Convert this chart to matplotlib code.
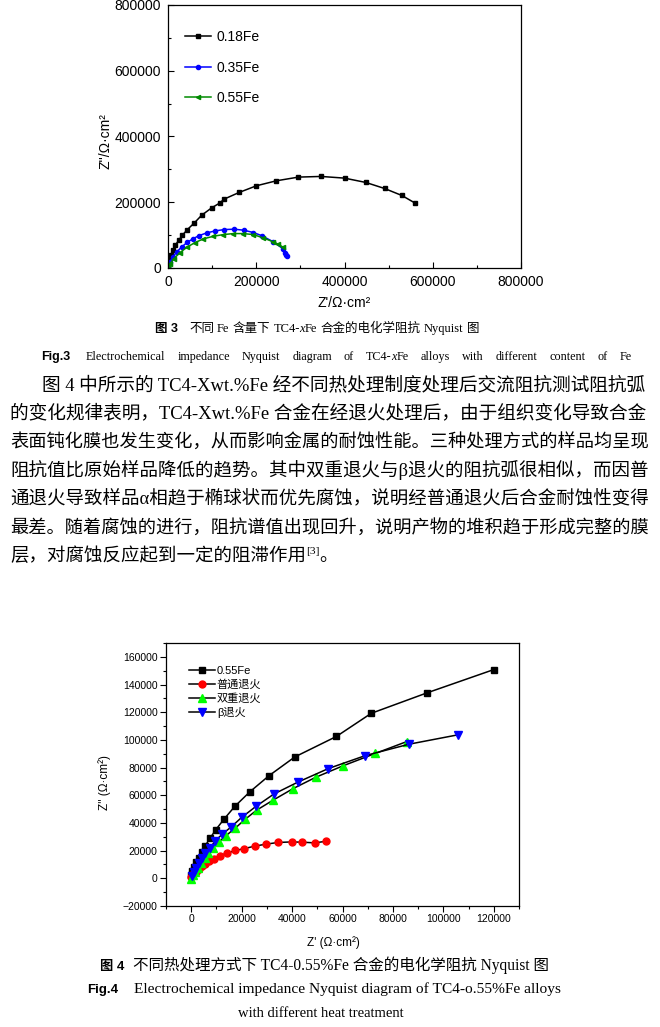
import matplotlib
matplotlib.use('Agg')
import matplotlib.pyplot as plt
from matplotlib.ticker import MultipleLocator

W, H = 660, 1027

# Fig.3 data (Z', Z'')
fe18_x = [0, 750, 3000, 6000, 10600, 16600, 24200, 32500, 43900, 59700, 76400, 99000, 118000,
          127000, 161000, 200400, 245700, 295600, 347000, 400000, 448400, 490700, 530000, 560300]
fe18_y = [0, 8100, 23400, 38600, 53900, 69100, 84400, 99600, 116900, 137200, 160600, 183000, 198200,
          209400, 229700, 250100, 265300, 276500, 278500, 273400, 260200, 241900, 220600, 197200]
fe35_x = [0, 4500, 10600, 19700, 31000, 43900, 56000, 70300, 87700, 106600, 128000, 150000, 172000,
          193600, 212000, 239000, 260000, 265000, 267000, 269000]
fe35_y = [0, 18300, 33500, 48800, 64000, 78300, 88400, 98600, 106700, 112800, 117000, 118000, 115000,
          107800, 98600, 79300, 59000, 47000, 41000, 35600]
fe55_x = [0, 4500, 13600, 27000, 43900, 61000, 80000, 102800, 125500, 148000, 171000, 193600,
          216000, 239000, 250000, 260000]
fe55_y = [0, 13200, 28500, 46800, 64000, 77200, 88400, 96600, 101600, 104700, 104700, 101600,
          91500, 79300, 72000, 64000]

# Fig.4 data
raw_x = [0, 400, 1000, 2000, 2900, 4100, 5500, 7400, 9700, 12900, 17300, 23200, 30900, 41100,
         57600, 71400, 93400, 120000]
raw_y = [2200, 5300, 8500, 11800, 15000, 18900, 23400, 28800, 35000, 42500, 52000, 62400, 74200,
         87700, 102500, 119200, 133900, 150800]
norm_x = [100, 800, 1700, 2900, 4100, 5400, 7100, 8900, 11300, 14100, 17500, 21100, 25100, 29700,
          34500, 39900, 44100, 49000, 53600]
norm_y = [1000, 2900, 4800, 7000, 8900, 10600, 12600, 14300, 16400, 18100, 20100, 21500, 23200,
          24700, 25900, 26300, 26100, 25600, 26800]
dbl_x = [0, 700, 1600, 2600, 3800, 5300, 6800, 8700, 11000, 13700, 17300, 21300, 26000, 32600,
         40400, 49400, 60100, 73000, 85500]
dbl_y = [-200, 2200, 4800, 7700, 10900, 14500, 18400, 22200, 26300, 30700, 36000, 42500, 49300,
         56600, 64800, 73000, 81200, 90200, 98800]
beta_x = [300, 1100, 2000, 3000, 4200, 5600, 7400, 9600, 12300, 15900, 20000, 25700, 32800, 42200,
          54400, 69100, 86400, 105900]
beta_y = [1700, 4600, 7700, 11100, 14500, 18100, 22000, 27100, 31900, 37200, 44000, 52000, 60900,
          69400, 79300, 88700, 96900, 103700]

para = [
    "图 4 中所示的 TC4-Xwt.%Fe 经不同热处理制度处理后交流阻抗测试阻抗弧",
    "的变化规律表明，TC4-Xwt.%Fe 合金在经退火处理后，由于组织变化导致合金",
    "表面钝化膜也发生变化，从而影响金属的耐蚀性能。三种处理方式的样品均呈现",
    "阻抗值比原始样品降低的趋势。其中双重退火与β退火的阻抗弧很相似，而因普",
    "通退火导致样品α相趋于椭球状而优先腐蚀，说明经普通退火后合金耐蚀性变得",
    "最差。随着腐蚀的进行，阻抗谱值出现回升，说明产物的堆积趋于形成完整的膜",
    "层，对腐蚀反应起到一定的阻滞作用",
]

SANS = ['Liberation Sans', 'Noto Sans CJK SC']
SERIF = ['Liberation Serif', 'Noto Sans CJK SC']
plt.rcParams['font.family'] = SANS

fig = plt.figure(figsize=(W / 100, H / 100), dpi=100)
r = fig.canvas.get_renderer()


def fx(x):
    return x / W


def fy(y):
    return 1 - y / H


def pieces(x, y, parts, x1=None, size=9, family=SERIF):
    # parts: list of words, each word a list of (text, weight, style, dy)
    objs = []
    for word in parts:
        wo = []
        for s, wt, st, dy in word:
            t = fig.text(0, 0, s, fontsize=size if dy == 0 else size * 0.65, family=family,
                         weight=wt, style=st, va='baseline', ha='left')
            wo.append((t, t.get_window_extent(r).width, dy))
        objs.append(wo)
    widths = [sum(w for _, w, _ in wo) for wo in objs]
    if x1 is None or len(objs) < 2:
        sp = size * 100 / 72 * 0.25
    else:
        sp = (x1 - x - sum(widths)) / (len(objs) - 1)
    cx = x
    for wo, ww in zip(objs, widths):
        for t, w, dy in wo:
            t.set_position((fx(cx), fy(y - dy)))
            cx += w
        cx += sp
    return cx


def fit(x0, x1, y, s, size, family=SERIF, **kw):
    # scale font so that the line runs from x0 to x1
    t = fig.text(fx(x0), fy(y), s, fontsize=size, family=family, va='baseline', **kw)
    wd = t.get_window_extent(r).width
    t.set_fontsize(size * (x1 - x0) / wd)
    return t


def w(s, wt='normal', st='normal', dy=0):
    return [(s, wt, st, dy)]


def words(s):
    return [w(p) for p in s.split(' ')]


# ---------- Fig.3 ----------
ax1 = fig.add_axes([fx(168), fy(268), (521 - 168) / W, (268 - 5) / H])
ax1.plot(fe18_x, fe18_y, '-s', color='black', ms=3, lw=1.1, label='0.18Fe')
ax1.plot(fe35_x, fe35_y, '-o', color='#0000ff', ms=3, lw=1.1, label='0.35Fe')
ax1.plot(fe55_x, fe55_y, '-<', color='#008a00', ms=3, lw=1.1, label='0.55Fe')
ax1.set_xlim(0, 800000)
ax1.set_ylim(0, 800000)
ax1.xaxis.set_major_locator(MultipleLocator(200000))
ax1.yaxis.set_major_locator(MultipleLocator(200000))
ax1.xaxis.set_minor_locator(MultipleLocator(100000))
ax1.yaxis.set_minor_locator(MultipleLocator(100000))
ax1.tick_params(which='both', direction='in', labelsize=10)
ax1.tick_params(which='major', length=4, width=0.8, pad=5)
ax1.tick_params(which='minor', length=2.5, width=0.8)
for sp in ax1.spines.values():
    sp.set_linewidth(0.9)
ax1.legend(loc='upper left', bbox_to_anchor=(fx(185), fy(30)), bbox_transform=fig.transFigure,
           frameon=False, fontsize=10, handlelength=1.9, handletextpad=0.35, labelspacing=1.2,
           borderpad=0, borderaxespad=0)
fig.text(fx(105), fy(141), "Z''/Ω·cm²", rotation=90, ha='center', va='center', fontsize=10)
fig.text(fx(344), fy(303), "Z'/Ω·cm²", ha='center', va='center', fontsize=10)

pieces(155, 332, [w('图 3', 'bold')], size=9, family=SANS)
pieces(189, 332, words('不同 Fe 含量下') + [w('TC4-') + w('x', st='italic') + w('Fe')] +
       words('合金的电化学阻抗 Nyquist 图'), size=9)
pieces(41, 360, [w('Fig.3', 'bold')], size=9, family=SANS)
pieces(86, 360, words('Electrochemical impedance Nyquist diagram of') +
       [w('TC4-') + w('x', st='italic') + w('Fe')] +
       words('alloys with different content of Fe'), x1=632, size=8.7)

# ---------- body text ----------
sizes = []
for i, line in enumerate(para[:-1]):
    x0 = 42 if i == 0 else 10
    t = fit(x0, 648, 390 + i * 28.5, line, 13.5)
    sizes.append(t.get_fontsize())
fs = sum(sizes) / len(sizes)
y = 390 + (len(para) - 1) * 28.5
t = fig.text(fx(10), fy(y), para[-1], fontsize=fs, family=SERIF, va='baseline')
e = t.get_window_extent(r).x1
t2 = fig.text(fx(e), fy(y - 7), '[3]', fontsize=fs * 0.62, family=SERIF, va='baseline')
e2 = t2.get_window_extent(r).x1
fig.text(fx(e2), fy(y), '。', fontsize=fs, family=SERIF, va='baseline')

# ---------- Fig.4 ----------
ax2 = fig.add_axes([fx(166), fy(906), (519 - 166) / W, (906 - 643) / H])
ax2.plot(raw_x, raw_y, '-s', color='black', mfc='black', mec='black', ms=5, lw=1.1, label='0.55Fe')
ax2.plot(norm_x, norm_y, '-o', color='black', mfc='#ff0000', mec='#ff0000', ms=5, lw=1.1, label='普通退火')
ax2.plot(dbl_x, dbl_y, '-^', color='black', mfc='#00ff00', mec='#00ff00', ms=6, lw=1.1, label='双重退火')
ax2.plot(beta_x, beta_y, '-v', color='black', mfc='#0000ff', mec='#0000ff', ms=6, lw=1.1, label='β退火')
ax2.set_xlim(-10000, 130000)
ax2.set_ylim(-20000, 170000)
ax2.xaxis.set_major_locator(MultipleLocator(20000))
ax2.yaxis.set_major_locator(MultipleLocator(20000))
ax2.xaxis.set_minor_locator(MultipleLocator(10000))
ax2.yaxis.set_minor_locator(MultipleLocator(10000))
ax2.tick_params(which='both', direction='out', labelsize=7.5)
ax2.tick_params(which='major', length=4, width=0.8, pad=2)
ax2.tick_params(which='minor', length=2.5, width=0.8)
for sp in ax2.spines.values():
    sp.set_linewidth(0.9)
ax2.legend(loc='upper left', bbox_to_anchor=(fx(189), fy(666)), bbox_transform=fig.transFigure,
           frameon=False, fontsize=8, handlelength=2.3, handletextpad=0.2, labelspacing=0.3,
           borderpad=0, borderaxespad=0)
fig.text(fx(105), fy(783), "Z'' (Ω·cm²)", rotation=90, ha='center', va='center', fontsize=8.5)
fig.text(fx(333), fy(943), "Z' (Ω·cm²)", ha='center', va='center', fontsize=8.5)

pieces(100, 970, [w('图 4', 'bold')], size=9.5, family=SANS)
fit(133, 550, 970, '不同热处理方式下 TC4-0.55%Fe 合金的电化学阻抗 Nyquist 图', 10)
pieces(87, 993, [w('Fig.4', 'bold')], size=9.5, family=SANS)
fit(134, 560, 993, 'Electrochemical impedance Nyquist diagram of TC4-o.55%Fe alloys', 10)
fig.text(fx(321), fy(1017), 'with different heat treatment', fontsize=10.5, family=SERIF,
         ha='center', va='baseline')

fig.savefig('out.png', dpi=100)
